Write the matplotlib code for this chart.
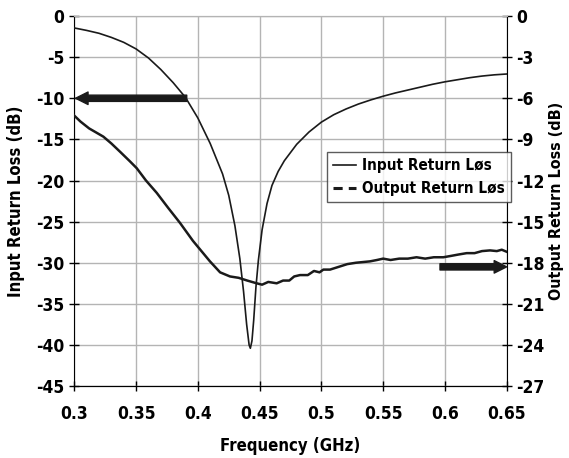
import matplotlib
matplotlib.use("Agg")
import matplotlib.pyplot as plt
from matplotlib.lines import Line2D

# fonts: condensed bold to get close to the narrow original face
plt.rcParams["font.family"] = ["DejaVu Sans"]
plt.rcParams["font.stretch"] = "condensed"
plt.rcParams["font.weight"] = "bold"
plt.rcParams["axes.unicode_minus"] = False

# input return loss (left axis, dB)
freq_in = [0.300, 0.310, 0.320, 0.330, 0.340, 0.350, 0.360, 0.370, 0.380,
           0.390, 0.400, 0.410, 0.420, 0.425, 0.430, 0.434, 0.437, 0.4395,
           0.4415, 0.4425, 0.4438, 0.4452, 0.447, 0.449, 0.452, 0.456, 0.460,
           0.465, 0.470, 0.480, 0.490, 0.500, 0.510, 0.520, 0.530, 0.540,
           0.550, 0.560, 0.570, 0.580, 0.590, 0.600, 0.610, 0.620, 0.630,
           0.640, 0.650]
loss_in = [-1.45, -1.75, -2.1, -2.6, -3.2, -4.0, -5.1, -6.5, -8.1,
           -9.9, -12.4, -15.5, -19.2, -21.8, -25.5, -29.5, -33.5, -37.5,
           -40.0, -40.4, -39.5, -37.0, -33.0, -29.7, -26.0, -22.8, -20.6,
           -18.9, -17.6, -15.6, -14.1, -12.9, -12.0, -11.3, -10.7, -10.2,
           -9.75, -9.35, -9.0, -8.65, -8.3, -8.0, -7.75, -7.5, -7.3,
           -7.15, -7.05]

# output return loss (right axis, dB)
freq_out = [0.2992, 0.305, 0.312, 0.3235, 0.330, 0.337, 0.345, 0.3505, 0.358,
            0.3667, 0.376, 0.3856, 0.396, 0.4098, 0.418, 0.426, 0.433, 0.440,
            0.4476, 0.452, 0.457, 0.4638, 0.469, 0.474, 0.478, 0.4827, 0.489,
            0.494, 0.4985, 0.5016, 0.507, 0.514, 0.521, 0.528, 0.5393, 0.545,
            0.550, 0.556, 0.563, 0.570, 0.577, 0.584, 0.591, 0.5987, 0.605,
            0.611, 0.6176, 0.624, 0.630, 0.6365, 0.642, 0.646, 0.650]
loss_out = [-7.2, -7.7, -8.2, -8.8, -9.3, -9.9, -10.6, -11.1, -12.0,
            -12.9, -14.0, -15.1, -16.4, -17.9, -18.7, -19.0, -19.1, -19.3,
            -19.5, -19.6, -19.4, -19.5, -19.3, -19.3, -19.0, -18.9, -18.9,
            -18.6, -18.7, -18.5, -18.5, -18.3, -18.1, -18.0, -17.9, -17.8,
            -17.7, -17.8, -17.7, -17.7, -17.6, -17.7, -17.6, -17.6, -17.5,
            -17.4, -17.3, -17.3, -17.15, -17.1, -17.15, -17.05, -17.2]

x_ticks = [0.3, 0.35, 0.4, 0.45, 0.5, 0.55, 0.6, 0.65]
x_tick_labels = ["0.3", "0.35", "0.4", "0.45", "0.5", "0.55", "0.6", "0.65"]
left_ticks = list(range(0, -50, -5))
right_ticks = list(range(0, -30, -3))

fig = plt.figure(figsize=(5.69, 4.58), dpi=100)
ax = fig.add_axes([0.1306, 0.157, 0.7599, 0.808])
ax2 = ax.twinx()

ax.plot(freq_in, loss_in, color="#1a1a1a", lw=1.2, zorder=3)
ax2.plot(freq_out, loss_out, color="#1a1a1a", lw=1.8, zorder=3)

ax.set_xlim(0.3, 0.65)
ax.set_ylim(-45, 0)
ax2.set_ylim(-27, 0)
ax.set_xticks(x_ticks)
ax.set_xticklabels(x_tick_labels)
ax.set_yticks(left_ticks)
ax2.set_yticks(right_ticks)

ax.grid(True, color="#b4b4b4", lw=1.0)
ax.set_axisbelow(True)
for a in (ax, ax2):
    a.spines["top"].set_color("#b4b4b4")
    a.tick_params(direction="inout", length=7, width=1, labelsize=12.5)
ax.tick_params(axis="x", pad=10)
ax.spines["right"].set_visible(False)
ax2.spines["left"].set_visible(False)

ax.set_xlabel("Frequency (GHz)", fontsize=12, fontweight="bold", labelpad=10)
ax.set_ylabel("Input Return Loss (dB)", fontsize=12, fontweight="bold", labelpad=8)
ax2.set_ylabel("Output Return Loss (dB)", fontsize=11.5, fontweight="bold", labelpad=3)

# arrows pointing at the axis each curve belongs to
ax.annotate("", xy=(0.301, -10), xytext=(0.391, -10),
            arrowprops=dict(arrowstyle="simple,head_length=0.9,head_width=0.9,tail_width=0.45",
                            color="#1a1a1a", shrinkA=0, shrinkB=0), zorder=4)
ax2.annotate("", xy=(0.650, -18.3), xytext=(0.596, -18.3),
             arrowprops=dict(arrowstyle="simple,head_length=0.9,head_width=0.9,tail_width=0.45",
                             color="#1a1a1a", shrinkA=0, shrinkB=0), zorder=4)

handles = [Line2D([], [], color="#1a1a1a", lw=1.2),
           Line2D([], [], color="#1a1a1a", lw=2.2, ls=(0, (3, 2)))]
leg = ax2.legend(handles, ["Input Return Løs", "Output Return Løs"],
                 loc="upper left", bbox_to_anchor=(0.584, 0.632),
                 frameon=True, fancybox=False, fontsize=11, handlelength=1.5,
                 borderpad=0.4, labelspacing=0.5, handletextpad=0.4,
                 borderaxespad=0)
leg.get_frame().set_edgecolor("#333333")
leg.get_frame().set_linewidth(1.0)
for t in leg.get_texts():
    t.set_fontweight("bold")

fig.savefig("out.png", dpi=100)
